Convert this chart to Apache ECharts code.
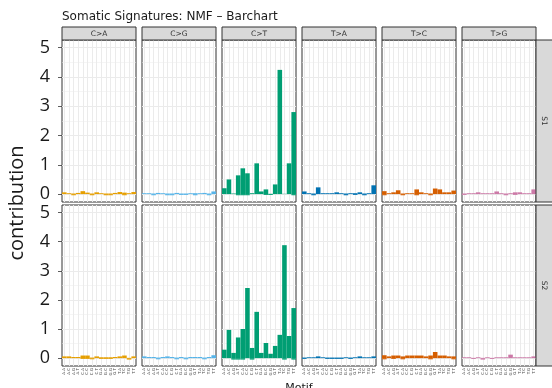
<!DOCTYPE html>
<html>
<head>
<meta charset="utf-8">
<script src="https://cdn.jsdelivr.net/npm/echarts@6/dist/echarts.min.js"></script>
<style>
  html, body { margin: 0; padding: 0; background: #ffffff; }
  #chart { width: 552px; height: 388px; }
</style>
</head>
<body>
<div id="chart"></div>
<script>
// Trinucleotide motifs (flanking bases around the mutated base)
const motifs = ['A.A','A.C','A.G','A.T','C.A','C.C','C.G','C.T',
                'G.A','G.C','G.G','G.T','T.A','T.C','T.G','T.T'];
const substitutions = ['C>A','C>G','C>T','T>A','T>C','T>G'];
const signatures = ['S1','S2'];
const yTicks = [0, 1, 2, 3, 4, 5];
const yMinorTicks = [0.5, 1.5, 2.5, 3.5, 4.5];

// Signature S1: contribution per motif, and the small negative part of each bar
const s1_CA = [0.06,0.03,0.02,0.04,0.10,0.05,0.02,0.06,0.03,0.02,0.02,0.04,0.07,0.05,0.03,0.07];
const s1_CA_low = [0,0,-0.04,0,0,0,-0.04,0,0,-0.04,-0.04,0,0,-0.04,0,0];
const s1_CG = [0.03,0.03,0.02,0.04,0.03,0.02,0.02,0.04,0.02,0.02,0.03,0.03,0.03,0.04,0.02,0.09];
const s1_CG_low = [0,0,-0.04,0,0,-0.04,-0.04,0,-0.03,-0.03,0,-0.04,0,0,-0.04,0];
const s1_CT = [0.20,0.50,0.02,0.64,0.88,0.71,0.03,1.05,0.09,0.16,0.01,0.33,4.24,0.01,1.05,2.80];
const s1_CT_low = [0,0,0,-0.04,-0.04,-0.04,0,0,0,-0.03,-0.03,0,0,0,0,-0.04];
const s1_TA = [0.09,0.03,0.02,0.23,0.03,0.03,0.03,0.06,0.03,0.02,0.03,0.03,0.06,0.02,0.03,0.30];
const s1_TA_low = [0,0,-0.04,0,0,0,0,0,0,-0.04,0,-0.03,0,-0.04,0,0];
const s1_TC = [0.10,0.03,0.06,0.13,0.02,0.03,0.03,0.16,0.06,0.03,0.02,0.19,0.16,0.06,0.06,0.12];
const s1_TC_low = [-0.04,0,0,0,-0.04,0,0,-0.04,0,0,-0.04,0,0,0,0,0];
const s1_TG = [0.02,0.03,0.03,0.06,0.03,0.03,0.03,0.09,0.03,0.02,0.03,0.06,0.06,0.03,0.03,0.16];
const s1_TG_low = [-0.03,0,0,0,0,0,0,0,0,-0.04,0,-0.03,0,0,0,0];

// Signature S2
const s2_CA = [0.06,0.06,0.04,0.04,0.09,0.09,0.02,0.06,0.03,0.03,0.03,0.04,0.06,0.09,0.01,0.06];
const s2_CA_low = [0,0,0,0,-0.03,-0.03,-0.04,0,-0.03,-0.03,-0.03,0,0,0,-0.05,0];
const s2_CG = [0.06,0.04,0.04,0.02,0.04,0.06,0.04,0.02,0.04,0.02,0.04,0.04,0.04,0.02,0.04,0.10];
const s2_CG_low = [0,0,0,-0.04,0,0,0,-0.04,0,-0.04,0,0,0,-0.04,0,0];
const s2_CT = [0.29,0.97,0.18,0.71,1.00,2.41,0.35,1.59,0.18,0.52,0.15,0.42,0.80,3.88,0.76,1.72];
const s2_CT_low = [0,0,-0.05,-0.05,-0.05,0,-0.05,0,0,0,0,0,0,-0.05,0,-0.05];
const s2_TA = [0.02,0.03,0.03,0.06,0.03,0.02,0.02,0.02,0.02,0.03,0.02,0.03,0.06,0.03,0.03,0.06];
const s2_TA_low = [-0.03,0,0,0,0,-0.03,-0.03,-0.03,-0.03,0,-0.03,0,0,0,0,0];
const s2_TC = [0.10,0.06,0.09,0.09,0.06,0.09,0.09,0.09,0.09,0.06,0.09,0.21,0.09,0.09,0.06,0.06];
const s2_TC_low = [-0.04,0,-0.03,0,-0.04,0,0,0,0,0,-0.04,0,0,0,0,-0.04];
const s2_TG = [0.03,0.03,0.01,0.03,0.01,0.03,0.01,0.03,0.03,0.03,0.12,0.03,0.03,0.03,0.03,0.06];
const s2_TG_low = [0,0,-0.03,0,-0.05,0,-0.03,0,0,0,0,0,0,0,0,0];

const panelValues = [
  [s1_CA, s1_CG, s1_CT, s1_TA, s1_TC, s1_TG],
  [s2_CA, s2_CG, s2_CT, s2_TA, s2_TC, s2_TG]
];
const panelLows = [
  [s1_CA_low, s1_CG_low, s1_CT_low, s1_TA_low, s1_TC_low, s1_TG_low],
  [s2_CA_low, s2_CG_low, s2_CT_low, s2_TA_low, s2_TC_low, s2_TG_low]
];

const palette = ['#E69F00', '#56B4E9', '#009E73', '#0072B2', '#D55E00', '#CC79A7'];

// facet layout
const panelLeft = 62, panelW = 74, panelStep = 80;
const rowTop = [40, 205], rowH = [162, 161];
const stripTop = 27, stripH = 13;
const stripRightX = 536, stripRightW = 20;
const yMin = -0.27, yMax = 5.26;
const gridColor = '#EBEBEB';
const borderColor = '#333333';
const labelFont = 'DejaVu Sans';

const grids = [], xAxes = [], yAxes = [], series = [];

signatures.forEach((sig, r) => {
  substitutions.forEach((sub, c) => {
    const idx = r * substitutions.length + c;
    grids.push({
      left: panelLeft + panelStep * c, top: rowTop[r],
      width: panelW, height: rowH[r],
      show: true, backgroundColor: '#ffffff',
      borderColor: borderColor, borderWidth: 1
    });
    xAxes.push({
      type: 'category', gridIndex: idx, data: motifs, boundaryGap: true,
      axisLine: { show: false },
      axisTick: { show: r === 1, interval: 0, alignWithLabel: true, length: 3,
                  lineStyle: { color: borderColor, width: 0.6 } },
      axisLabel: { show: r === 1, interval: 0, rotate: 90, fontSize: 4, margin: 2,
                   color: '#4D4D4D', fontFamily: labelFont },
      splitLine: { show: false }
    });
    yAxes.push({
      type: 'value', gridIndex: idx, min: yMin, max: yMax,
      axisLine: { show: false },
      axisTick: { show: c === 0, customValues: yTicks, length: 4,
                  lineStyle: { color: borderColor, width: 0.8 } },
      axisLabel: { show: c === 0, customValues: yTicks, fontSize: 18, margin: 12,
                   color: '#1A1A1A', fontFamily: 'Open Sans' },
      splitLine: { show: false }
    });
    // panel grid lines: one per motif, major and minor on the value axis
    series.push({
      type: 'line', xAxisIndex: idx, yAxisIndex: idx, data: [], z: 1, silent: true,
      animation: false,
      markLine: {
        z: 1, silent: true, symbol: 'none', animation: false, label: { show: false },
        lineStyle: { color: gridColor, width: 1, type: 'solid' },
        emphasis: { disabled: true },
        data: [
          ...motifs.map(m => ({ xAxis: m })),
          ...yTicks.map(v => ({ yAxis: v })),
          ...yMinorTicks.map(v => ({ yAxis: v, lineStyle: { width: 0.5, color: gridColor } }))
        ]
      }
    });
    const color = palette[c];
    series.push({
      name: sig + ' ' + sub, type: 'bar', stack: 'panel' + idx,
      xAxisIndex: idx, yAxisIndex: idx, data: panelValues[r][c],
      barCategoryGap: '1%', itemStyle: { color: color }, z: 6, animation: false
    });
    series.push({
      name: sig + ' ' + sub + ' low', type: 'bar', stack: 'panel' + idx,
      xAxisIndex: idx, yAxisIndex: idx, data: panelLows[r][c],
      barCategoryGap: '1%', itemStyle: { color: color }, z: 6, animation: false
    });
  });
});

// facet strips and titles
const graphics = [];
substitutions.forEach((sub, c) => {
  const x = panelLeft + panelStep * c;
  graphics.push({
    type: 'rect', shape: { x: x, y: stripTop, width: panelW, height: stripH },
    style: { fill: '#D9D9D9', stroke: borderColor, lineWidth: 1 }, z: 10
  });
  graphics.push({
    type: 'text', x: x + panelW / 2, y: stripTop + stripH / 2 + 0.5,
    style: { text: sub, fontSize: 7.5, fontFamily: labelFont, fill: '#333333',
             textAlign: 'center', textVerticalAlign: 'middle' }, z: 11
  });
});
signatures.forEach((sig, r) => {
  graphics.push({
    type: 'rect', shape: { x: stripRightX, y: rowTop[r], width: stripRightW, height: rowH[r] },
    style: { fill: '#D9D9D9', stroke: borderColor, lineWidth: 1 }, z: 10
  });
  graphics.push({
    type: 'text', x: stripRightX + 8, y: rowTop[r] + rowH[r] / 2, rotation: -Math.PI / 2,
    style: { text: sig, fontSize: 7.5, fontFamily: labelFont, fill: '#333333',
             textAlign: 'center', textVerticalAlign: 'middle' }, z: 11
  });
});
graphics.push({
  type: 'text', x: 62, y: 16.5,
  style: { text: 'Somatic Signatures: NMF \u2013 Barchart', fontSize: 12,
           fontFamily: labelFont, fill: '#1A1A1A',
           textAlign: 'left', textVerticalAlign: 'middle' }, z: 11
});
graphics.push({
  type: 'text', x: 17, y: 203, rotation: Math.PI / 2,
  style: { text: 'contribution', fontSize: 20, fontFamily: 'Open Sans', fill: '#1A1A1A',
           textAlign: 'center', textVerticalAlign: 'middle' }, z: 11
});
graphics.push({
  type: 'text', x: 299, y: 382.5,
  style: { text: 'Motif', fontSize: 11, fontFamily: labelFont, fill: '#1A1A1A',
           textAlign: 'center', textVerticalAlign: 'top' }, z: 11
});

const chart = echarts.init(document.getElementById('chart'), null, { renderer: 'canvas' });
chart.setOption({
  backgroundColor: '#ffffff',
  animation: false,
  grid: grids,
  xAxis: xAxes,
  yAxis: yAxes,
  series: series,
  graphic: graphics
});
</script>
</body>
</html>
